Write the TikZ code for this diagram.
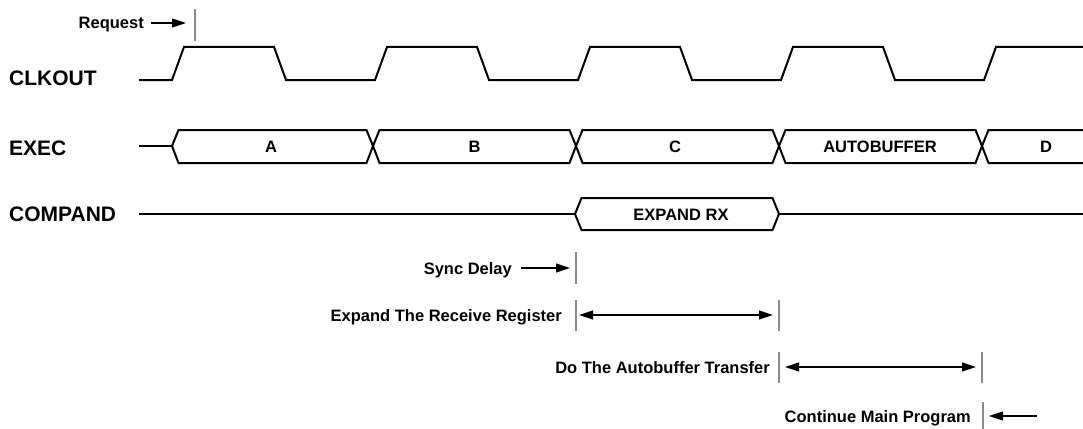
\documentclass[tikz,border=0pt]{standalone}
\usepackage{fontspec}
\setmainfont{Liberation Sans}
\usetikzlibrary{arrows.meta}
\begin{document}
\begin{tikzpicture}[x=1pt,y=-1pt,
  sig/.style={line width=2pt, black, line join=miter},
  tickmark/.style={line width=2pt, black!45},
  arr/.style={line width=1.1pt, -{Triangle[length=14pt,width=9pt]}},
  darr/.style={line width=1.1pt, {Triangle[length=14pt,width=9pt]}-{Triangle[length=14pt,width=9pt]}},
  rowlbl/.style={font=\fontsize{21}{24}\selectfont\bfseries, anchor=west, inner sep=0pt, text height=15pt, text depth=0pt},
  smlbl/.style={font=\fontsize{16.5}{19}\selectfont\bfseries, inner sep=0pt, text height=12pt, text depth=0pt},
]
\useasboundingbox (0,0) rectangle (1083,428);
\fill[white] (0,0) rectangle (1083,428);

% Row labels
\node[rowlbl] (lclk) at (9,78) {CLKOUT};
\node[rowlbl] (lexec) at (9,148) {EXEC};
\node[rowlbl] (lcomp) at (9,214) {COMPAND};

% Request
\node[smlbl, anchor=east] (req) at (144,23) {Request};
\coordinate (reqA) at (151,23);
\coordinate (reqB) at (186,23);
\coordinate (rt1) at (195,9);
\coordinate (rt2) at (195,41);
\draw[arr] (reqA) -- (reqB);
\draw[tickmark] (rt1) -- (rt2);

% CLKOUT waveform
\draw[sig] (139,80) -- (172,80) -- (184,47) -- (274,47) -- (286,80)
  -- (375,80) -- (387,47) -- (477,47) -- (489,80)
  -- (578,80) -- (590,47) -- (680,47) -- (692,80)
  -- (781,80) -- (793,47) -- (883,47) -- (895,80)
  -- (984,80) -- (996,47) -- (1083,47);

% EXEC bus
\def\eT{130}\def\eB{163}\def\eM{146}\def\h{6.5}
\draw[sig] (139,\eM) -- (172,\eM);
\foreach \a/\b in {172/373, 373/576, 576/779, 779/982}{
  \draw[sig] (\a,\eM) -- (\a+\h,\eT) -- (\b-\h,\eT) -- (\b,\eM) -- (\b-\h,\eB) -- (\a+\h,\eB) -- cycle;
}
\draw[sig] (1083,\eT) -- (982+\h,\eT) -- (982,\eM) -- (982+\h,\eB) -- (1083,\eB);
\node[smlbl] (cA) at (271,\eM) {A};
\node[smlbl] (cB) at (474.5,\eM) {B};
\node[smlbl] (cC) at (675,\eM) {C};
\node[smlbl] (cAB) at (880,\eM) {AUTOBUFFER};
\node[smlbl] (cD) at (1046,\eM) {D};

% COMPAND
\def\cT{198}\def\cB{230}\def\cM{214}
\draw[sig] (139,\cM) -- (575,\cM);
\draw[sig] (575,\cM) -- (575+\h,\cT) -- (779-\h,\cT) -- (779,\cM) -- (779-\h,\cB) -- (575+\h,\cB) -- cycle;
\draw[sig] (779,\cM) -- (1083,\cM);
\node[smlbl] (cX) at (681,\cM) {EXPAND RX};

% Sync Delay
\node[smlbl, anchor=east] (sync) at (512,268) {Sync Delay};
\coordinate (sA) at (521,268);
\coordinate (sB) at (570,268);
\draw[arr] (sA) -- (sB);
\draw[tickmark] (576,252) -- (576,284);

% Expand The Receive Register
\node[smlbl, anchor=east] (exp) at (562,315) {Expand The Receive Register};
\coordinate (eA) at (579,315);
\coordinate (eB) at (773,315);
\draw[darr] (eA) -- (eB);
\draw[tickmark] (576,300) -- (576,331);
\draw[tickmark] (779,300) -- (779,331);

% Do The Autobuffer Transfer
\node[smlbl, anchor=east] (doab) at (770,367) {Do The Autobuffer Transfer};
\coordinate (dA) at (785,367);
\coordinate (dB) at (976,367);
\draw[darr] (dA) -- (dB);
\draw[tickmark] (779,352) -- (779,383);
\draw[tickmark] (982,352) -- (982,383);

% Continue Main Program
\node[smlbl, anchor=east] (cont) at (971,416) {Continue Main Program};
\coordinate (kA) at (1037,416);
\coordinate (kB) at (989,416);
\draw[arr] (kA) -- (kB);
\draw[tickmark] (983,402) -- (983,429);
\end{tikzpicture}
\end{document}
